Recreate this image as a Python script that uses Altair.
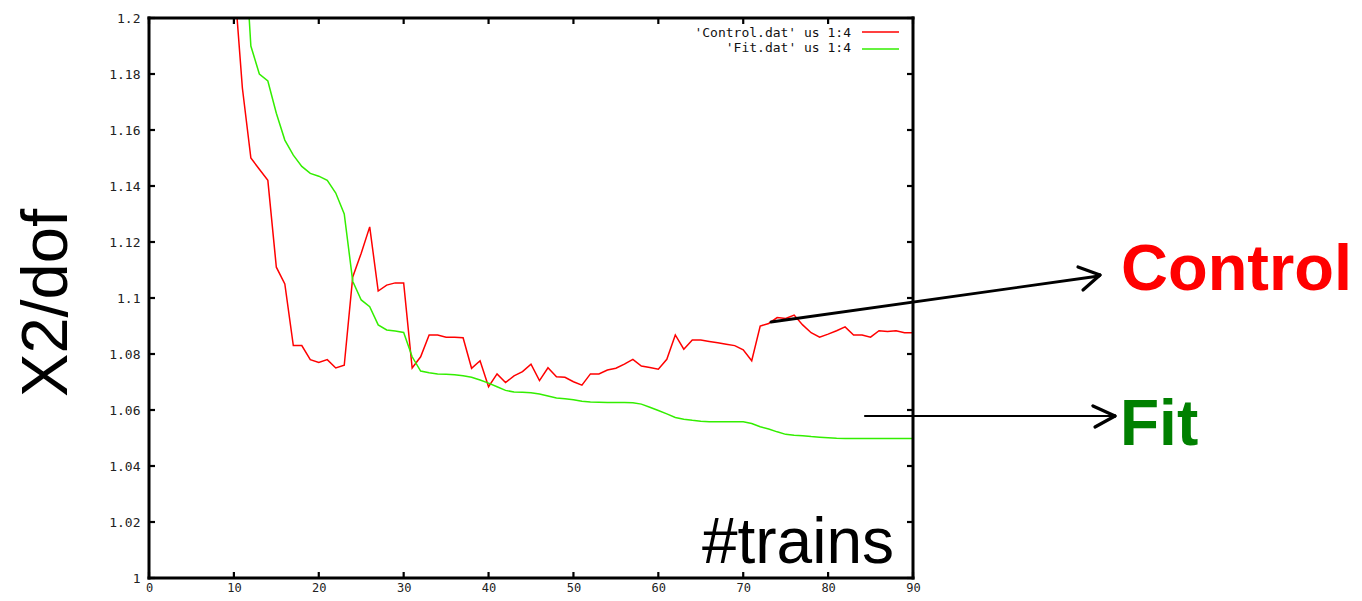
import altair as alt
import pandas as pd

# ---------------- data ----------------
control_x = list(range(10, 91))
control_y = [
    1.215, 1.175, 1.150, 1.146, 1.142, 1.111, 1.105, 1.083, 1.083, 1.078,
    1.077, 1.078, 1.075, 1.076, 1.1075, 1.116, 1.1254, 1.1025, 1.1046, 1.1054,
    1.1054, 1.075, 1.079, 1.0868, 1.0868, 1.086, 1.086, 1.0858, 1.0749, 1.0776,
    1.0683, 1.0729, 1.0698, 1.0722, 1.0737, 1.0764, 1.0705, 1.0751, 1.0719, 1.0717,
    1.0701, 1.0689, 1.0729, 1.0729, 1.0743, 1.0749, 1.0764, 1.0781, 1.0757, 1.0752,
    1.0746, 1.0781, 1.0868, 1.0817, 1.085, 1.085, 1.0845, 1.084, 1.0835, 1.083,
    1.0815, 1.0776, 1.09, 1.0909, 1.093, 1.0927, 1.0939, 1.0904, 1.0876, 1.086,
    1.0871, 1.0883, 1.0897, 1.0868, 1.0868, 1.086, 1.0883, 1.088, 1.0883, 1.0876, 1.0876,
]
fit_x = list(range(11, 91))
fit_y = [
    1.24, 1.19, 1.180, 1.1775, 1.166, 1.1564, 1.151, 1.147, 1.1445,
    1.1435, 1.142, 1.1375, 1.130, 1.106, 1.0993, 1.0969, 1.0904, 1.0886, 1.0882,
    1.0877, 1.079, 1.0739, 1.0733, 1.0729, 1.0728, 1.0726, 1.0722, 1.0717, 1.0707,
    1.0696, 1.0683, 1.067, 1.0664, 1.0663, 1.0662, 1.0657, 1.065, 1.0643, 1.064,
    1.0637, 1.0631, 1.0629, 1.0628, 1.0627, 1.0627, 1.0627, 1.0626, 1.0621, 1.061,
    1.0598, 1.0586, 1.0573, 1.0567, 1.0563, 1.056, 1.0558, 1.0558, 1.0558, 1.0558,
    1.0558, 1.0552, 1.054, 1.0532, 1.0522, 1.0513, 1.051, 1.0508, 1.0505, 1.0503,
    1.0501, 1.0499, 1.0498, 1.0498, 1.0498, 1.0498, 1.0498, 1.0498, 1.0498, 1.0498, 1.0498,
]
x_ticks = list(range(0, 91, 10))
y_ticks = [1.0, 1.02, 1.04, 1.06, 1.08, 1.1, 1.12, 1.14, 1.16, 1.18, 1.2]
series_names = ["'Control.dat' us 1:4", "'Fit.dat' us 1:4"]
series_colors = ["#ff0000", "#33ee00"]
y_title = "X2/dof"
x_note = "#trains"
call_outs = ["Control", "Fit"]
call_out_colors = ["#ff0000", "#008000"]

# ---------------- build ----------------
W, H = 764, 560
n_ctrl = min(len(control_x), len(control_y))
n_fit = min(len(fit_x), len(fit_y))
df = pd.DataFrame({
    "x": control_x[:n_ctrl] + fit_x[:n_fit],
    "y": control_y[:n_ctrl] + fit_y[:n_fit],
    "s": [series_names[0]] * n_ctrl + [series_names[1]] * n_fit,
})

xs = alt.Scale(domain=[0, 90], nice=False, zero=False)
ys = alt.Scale(domain=[1.0, 1.2], nice=False, zero=False)
axis_font = "DejaVu Sans Mono"

lines = alt.Chart(df).mark_line(clip=True, strokeWidth=1.5).encode(
    x=alt.X("x:Q", scale=xs, axis=alt.Axis(
        values=x_ticks, title=None, ticks=False, domain=False, grid=False,
        labelFont=axis_font, labelFontSize=12, labelColor="#222",
        labelPadding=4, labelFlush=False)),
    y=alt.Y("y:Q", scale=ys, axis=alt.Axis(
        values=y_ticks, title=None, ticks=False, domain=False, grid=False,
        format=".3~f", labelFont=axis_font, labelFontSize=13, labelColor="#222",
        labelPadding=9, labelFlush=False)),
    color=alt.Color("s:N", scale=alt.Scale(domain=series_names, range=series_colors), legend=None),
    detail="s:N",
)

xt = pd.DataFrame({"x": x_ticks})
yt = pd.DataFrame({"y": y_ticks})
tick_style = dict(color="black", strokeWidth=2.2)
ticks_bottom = alt.Chart(xt).mark_rule(**tick_style).encode(
    x=alt.X("x:Q", scale=xs), y=alt.value(H), y2=alt.value(H - 6))
ticks_top = alt.Chart(xt).mark_rule(**tick_style).encode(
    x=alt.X("x:Q", scale=xs), y=alt.value(0), y2=alt.value(6))
ticks_left = alt.Chart(yt).mark_rule(**tick_style).encode(
    y=alt.Y("y:Q", scale=ys), x=alt.value(0), x2=alt.value(6))
ticks_right = alt.Chart(yt).mark_rule(**tick_style).encode(
    y=alt.Y("y:Q", scale=ys), x=alt.value(W), x2=alt.value(W - 6))

# thick plot frame drawn from the scale extremes
frame_style = dict(color="black", strokeWidth=3, strokeCap="square")
frame_lr = alt.Chart(pd.DataFrame({"x": [x_ticks[0], x_ticks[-1]]})).mark_rule(**frame_style).encode(
    x=alt.X("x:Q", scale=xs), y=alt.value(0), y2=alt.value(H))
frame_tb = alt.Chart(pd.DataFrame({"y": [y_ticks[0], y_ticks[-1]]})).mark_rule(**frame_style).encode(
    y=alt.Y("y:Q", scale=ys), x=alt.value(0), x2=alt.value(W))

# legend (gnuplot style, top right inside)
legend_layers = []
for i, (name, col) in enumerate(zip(series_names, series_colors)):
    ldf = pd.DataFrame({"t": [name]})
    legend_layers.append(alt.Chart(ldf).mark_text(
        font=axis_font, fontSize=13, align="right", baseline="alphabetic", color="#111"
    ).encode(text="t:N", x=alt.value(702), y=alt.value(19 + 15 * i)))
    legend_layers.append(alt.Chart(ldf).mark_rule(color=col, strokeWidth=1.6).encode(
        x=alt.value(713), x2=alt.value(750), y=alt.value(14 + 17 * i)))

# big annotation texts
ytitle = alt.Chart(pd.DataFrame({"t": [y_title]})).mark_text(
    font="Liberation Sans", fontSize=65, angle=270, align="center", baseline="alphabetic", color="black"
).encode(text="t:N", x=alt.value(-82), y=alt.value(285))
xnote = alt.Chart(pd.DataFrame({"t": [x_note]})).mark_text(
    font="Liberation Sans", fontSize=64, align="right", baseline="alphabetic", color="black"
).encode(text="t:N", x=alt.value(745), y=alt.value(545))
ctrl_txt = alt.Chart(pd.DataFrame({"t": [call_outs[0]]})).mark_text(
    font="Liberation Sans", fontWeight="bold", fontSize=65, align="left", baseline="alphabetic",
    color=call_out_colors[0]
).encode(text="t:N", x=alt.value(972), y=alt.value(272))
fit_txt = alt.Chart(pd.DataFrame({"t": [call_outs[1]]})).mark_text(
    font="Liberation Sans", fontWeight="bold", fontSize=64, align="left", baseline="alphabetic",
    color=call_out_colors[1]
).encode(text="t:N", x=alt.value(971), y=alt.value(427))

# arrows
def seg(x1, y1, x2, y2, w):
    return alt.Chart(pd.DataFrame({"k": [0]})).mark_rule(
        color="black", strokeWidth=w, strokeCap="round"
    ).encode(x=alt.value(x1), y=alt.value(y1), x2=alt.value(x2), y2=alt.value(y2))

arrows = [
    seg(622, 304, 950, 258, 2.8),
    seg(929, 249, 951, 257, 3.2),
    seg(934, 272, 951, 257, 3.2),
    seg(716, 398, 964, 398, 2.2),
    seg(944, 388, 966, 398, 3.2),
    seg(946, 409, 966, 398, 3.2),
]

chart = alt.layer(
    lines, ticks_bottom, ticks_top, ticks_left, ticks_right, frame_lr, frame_tb,
    *legend_layers, ytitle, xnote, ctrl_txt, fit_txt, *arrows
).properties(
    width=W, height=H,
    autosize=alt.AutoSizeParams(type="none"),
    padding={"left": 141, "top": 10, "right": 441, "bottom": 22},
).configure_view(
    stroke=None
).configure(background="white")

chart.save("out.html", embed_options={"renderer": "svg", "actions": False})
